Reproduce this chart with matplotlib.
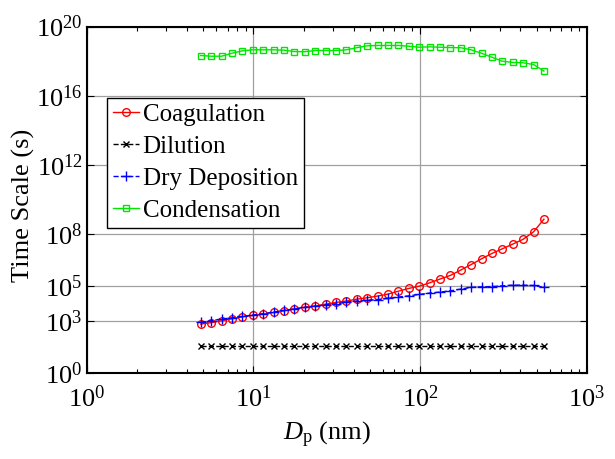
import numpy as np
import matplotlib
matplotlib.use("Agg")
import matplotlib.pyplot as plt
from matplotlib.ticker import FixedLocator, FuncFormatter, LogLocator, NullLocator

plt.rcParams["font.family"] = ["Liberation Serif", "DejaVu Serif"]
plt.rcParams["mathtext.fontset"] = "custom"
plt.rcParams["mathtext.rm"] = "Liberation Serif"
plt.rcParams["mathtext.it"] = "Liberation Serif:italic"

# Particle diameter bins (nm)
dp = [4.83, 5.58, 6.44, 7.43, 8.58, 9.91, 11.44, 13.21, 15.25, 17.61,
      20.32, 23.47, 27.09, 31.28, 36.11, 41.69, 48.13, 55.57, 64.16, 74.07,
      85.51, 98.72, 114.0, 131.6, 151.9, 175.4, 202.5, 233.8, 269.9, 311.6,
      359.8, 415.4, 479.6, 553.7]

# log10 of time scales (s)
log_coag = [2.81, 2.89, 3.00, 3.12, 3.23, 3.31, 3.39, 3.48, 3.58, 3.69,
            3.79, 3.85, 3.96, 4.06, 4.14, 4.25, 4.33, 4.43, 4.54, 4.71,
            4.87, 5.00, 5.19, 5.41, 5.62, 5.93, 6.25, 6.58, 6.89, 7.16,
            7.43, 7.71, 8.14, 8.87]
log_dil = [1.56] * 34
log_dry = [2.92, 3.00, 3.10, 3.17, 3.25, 3.33, 3.41, 3.50, 3.60, 3.68,
           3.77, 3.85, 3.92, 3.98, 4.08, 4.14, 4.19, 4.23, 4.29, 4.37,
           4.44, 4.52, 4.60, 4.66, 4.73, 4.83, 4.93, 4.96, 4.98, 5.02,
           5.06, 5.06, 5.04, 4.93]
log_cond = [18.33, 18.29, 18.29, 18.46, 18.60, 18.66, 18.66, 18.66, 18.64, 18.56,
            18.55, 18.62, 18.62, 18.62, 18.66, 18.78, 18.89, 18.91, 18.91, 18.91,
            18.87, 18.81, 18.83, 18.81, 18.79, 18.78, 18.66, 18.46, 18.23, 18.00,
            17.93, 17.91, 17.81, 17.43]

y_tick_exps = [0, 3, 5, 8, 12, 16, 20]
x_tick_exps = [0, 1, 2, 3]

fig = plt.figure(figsize=(6.15, 4.59), dpi=100)
ax = fig.add_axes([0.141, 0.188, 0.813, 0.754])

series = [
    ("Coagulation", log_coag, dict(color=(1, 0, 0), ls="-", marker="o", ms=5.5, mfc="none", mew=1.0)),
    ("Dilution", log_dil, dict(color="k", ls="--", marker="x", ms=4, mew=1.0)),
    ("Dry Deposition", log_dry, dict(color=(0, 0, 1), ls="--", marker="+", ms=7, mew=1.0)),
    ("Condensation", log_cond, dict(color="#00e600", ls="-", marker="s", ms=5, mfc="none", mew=1.0)),
]
for name, vals, style in series:
    ax.plot(dp, 10.0 ** np.array(vals), lw=1.0, label=name, **style)

ax.set_xscale("log")
ax.set_yscale("log")
ax.set_xlim(1, 1000)
ax.set_ylim(1, 1e20)

ax.yaxis.set_major_locator(FixedLocator([10.0 ** e for e in y_tick_exps]))
ax.yaxis.set_minor_locator(NullLocator())
ax.xaxis.set_major_locator(FixedLocator([10.0 ** e for e in x_tick_exps]))
ax.xaxis.set_minor_locator(LogLocator(base=10, subs=np.arange(2, 10)))

fmt = FuncFormatter(lambda v, p: r"$\mathregular{10^{%d}}$" % int(round(np.log10(v))))
ax.xaxis.set_major_formatter(fmt)
ax.yaxis.set_major_formatter(fmt)

ax.tick_params(which="both", direction="in", top=True, right=True, labelsize=19)
ax.tick_params(which="major", length=5, width=0.8)
ax.tick_params(which="minor", length=3, width=0.8)
ax.tick_params(axis="x", pad=9)
ax.tick_params(axis="y", pad=3)

ax.grid(True, which="major", color="#a0a0a0", lw=0.9)
ax.set_axisbelow(True)
for sp in ax.spines.values():
    sp.set_linewidth(1.5)

ax.set_xlabel(r"$D_{\mathrm{p}}$ (nm)", fontsize=19)
ax.xaxis.set_label_coords(0.48, -0.135)
ax.set_ylabel("Time Scale (s)", fontsize=19)
ax.yaxis.set_label_coords(-0.103, 0.484)

leg = ax.legend(loc="upper left", bbox_to_anchor=(0.041, 0.795), borderaxespad=0,
                fontsize=18, numpoints=1, handlelength=1.04, handletextpad=0.14,
                labelspacing=0.38, borderpad=0.24, fancybox=False, framealpha=1,
                edgecolor="k")
leg.get_frame().set_linewidth(1.0)

fig.savefig("out.png", dpi=100)
